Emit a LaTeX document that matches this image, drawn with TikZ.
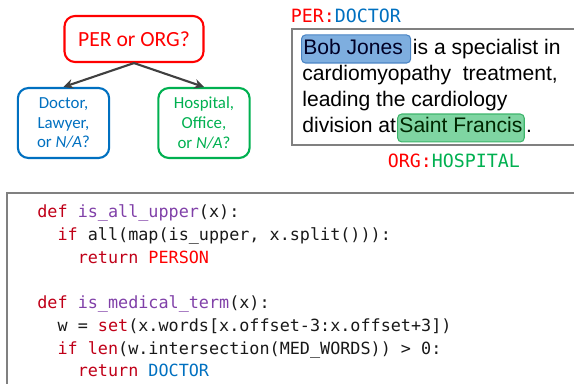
\documentclass[tikz,border=0pt]{standalone}
\usepackage{fontspec}
\setmainfont{Liberation Sans}
\setmonofont{DejaVu Sans Mono}
\newfontfamily\calibri{Carlito}
\usetikzlibrary{arrows.meta, positioning}

\definecolor{perred}{HTML}{FF0000}
\definecolor{kwred}{HTML}{C00018}
\definecolor{fnpurple}{HTML}{8040A8}
\definecolor{docblue}{HTML}{0070C0}
\definecolor{hospgreen}{HTML}{00B050}
\definecolor{hlblue}{HTML}{7EAEDF}
\definecolor{hlblueline}{HTML}{4A84C4}
\definecolor{hlgreen}{HTML}{7FD5A2}
\definecolor{hlgreenline}{HTML}{3DB56B}
\definecolor{framegray}{HTML}{808080}
\definecolor{arrowgray}{HTML}{404040}

\begin{document}
\begin{tikzpicture}[
    x=0.02cm, y=-0.02cm,
    >=Stealth,
    catbox/.style={rectangle, draw, rounded corners=6pt, line width=1.2pt,
        inner sep=0pt, align=center},
    choice/.style={catbox, minimum width=52pt, minimum height=39.8pt,
        font=\calibri\fontsize{9.6}{11.2}\selectfont},
    link/.style={-{Stealth[length=5.5pt, width=5.5pt]}, draw=arrowgray,
        line width=1.2pt},
    frame/.style={draw=framegray, line width=0.8pt},
    tag/.style={inner sep=0pt, anchor=base west,
        font=\ttfamily\fontsize{10.4}{12}\selectfont},
    txt/.style={inner sep=0pt, anchor=base west,
        font=\fontsize{12}{14}\selectfont},
    hlbox/.style={txt, draw, rounded corners=2.3pt, line width=0.6pt,
        inner xsep=1pt}
]

    \useasboundingbox (0,0) rectangle (574,384);
    \clip (0,0) rectangle (574,384);

    % Question tree ----------------------------------------------

    \node[catbox, draw=perred, text=perred, minimum width=79.1pt,
        minimum height=26.2pt, font=\calibri\fontsize{12.3}{14}\selectfont]
        (per) at (134,39) {PER or ORG?};
    \node[choice, draw=docblue, text=docblue] (doc) at (63.5,123)
        {Doctor,\\Lawyer,\\or \textit{N/A}?};
    \node[choice, draw=hospgreen, text=hospgreen] (hosp) at (204,123)
        {Hospital,\\Office,\\or \textit{N/A}?};

    \draw[link] (per.south) -- (doc.north);
    \draw[link] (per.south) -- (hosp.north);

    % Sentence ---------------------------------------------------

    \draw[frame] (292,29) rectangle (600,145);

    \node[tag] (perlbl) at (290.5,22.3)
        {\textcolor{perred}{PER:}\textcolor{docblue}{DOCTOR}};

    \node[hlbox, fill=hlblue, draw=hlblueline, text=black!75!blue!60!black,
        text height=11.4pt, text depth=4.55pt]
        (bob) at (301,55) {Bob Jones\kern3.4pt};
    \node[txt, base right=0.8pt of bob] (line1) {is a specialist in};
    \node[txt] (line2) at (302,81) {cardiomyopathy \ treatment,};
    \node[txt] (line3) at (302,107) {leading the cardiology};
    \node[txt] (line4) at (302,133) {division at};
    \node[hlbox, fill=hlgreen, draw=hlgreenline, text=black!70!green!50!black,
        text height=10.8pt, text depth=5.1pt,
        base right=0.4pt of line4] (saint) {Saint Francis};
    \node[txt, base right=0.6pt of saint] (stop) {.};

    \node[tag] (orglbl) at (387.5,167.3)
        {\textcolor{perred}{ORG:}\textcolor{hospgreen}{HOSPITAL}};

    % Labeling functions -----------------------------------------

    \draw[frame] (7,193) rectangle (600,400);

    \node[inner sep=0pt, anchor=base west, align=left,
        font=\ttfamily\fontsize{9.55}{12.95}\selectfont, text=black!90]
        (code) at (37,376.8) {%
        \textcolor{kwred}{def} \textcolor{fnpurple}{is\_all\_upper}(x):\\
        \ \ \textcolor{kwred}{if} all(map(is\_upper, x.split())):\\
        \ \ \ \ \textcolor{kwred}{return} \textcolor{perred}{PERSON}\\
        \mbox{}\\
        \textcolor{kwred}{def} \textcolor{fnpurple}{is\_medical\_term}(x):\\
        \ \ w = \textcolor{kwred}{set}(x.words[x.offset-3:x.offset+3])\\
        \ \ \textcolor{kwred}{if} \textcolor{kwred}{len}(w.intersection(MED\_WORDS)) > 0:\\
        \ \ \ \ \textcolor{kwred}{return} \textcolor{docblue}{DOCTOR}};

\end{tikzpicture}
\end{document}
